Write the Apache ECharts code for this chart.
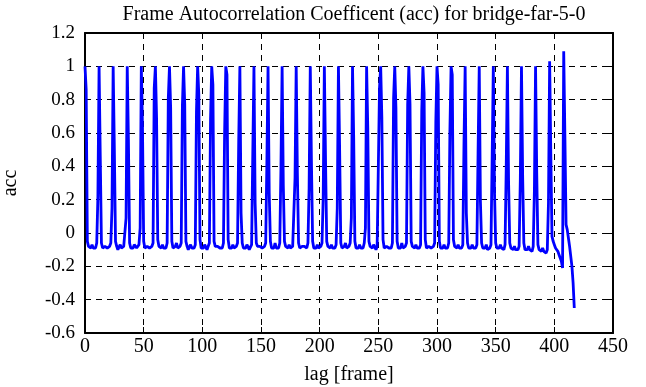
<!DOCTYPE html>
<html>
<head>
<meta charset="utf-8">
<script src="https://cdn.jsdelivr.net/npm/echarts@6/dist/echarts.min.js"></script>
<style>html,body{margin:0;padding:0;background:#fff;}#c{width:646px;height:387px;}</style>
</head>
<body>
<div id="c"></div>
<script>
// acc values, one row per 12-frame period (lag 12k .. 12k+11)
const accRows = [
  [1.00, 0.86, -0.05, -0.08, -0.09, -0.09, -0.07, -0.09, -0.10, -0.09, -0.06, 0.22],
  [1.00, 0.46, -0.06, -0.09, -0.09, -0.08, -0.07, -0.09, -0.09, -0.08, -0.06, 0.15],
  [1.00, 0.51, -0.05, -0.08, -0.10, -0.09, -0.07, -0.09, -0.10, -0.08, -0.07, 0.09],
  [1.00, 0.56, -0.06, -0.09, -0.09, -0.09, -0.07, -0.08, -0.09, -0.09, -0.07, 0.03],
  [1.00, 0.63, -0.05, -0.09, -0.10, -0.08, -0.07, -0.09, -0.09, -0.08, -0.06, 0.87],
  [1.00, 0.69, -0.04, -0.08, -0.09, -0.09, -0.07, -0.09, -0.10, -0.09, -0.06, 0.81],
  [1.00, 0.75, -0.05, -0.09, -0.09, -0.08, -0.06, -0.09, -0.09, -0.08, -0.06, 0.76],
  [1.00, 0.77, -0.05, -0.08, -0.10, -0.09, -0.07, -0.09, -0.09, -0.09, -0.07, 0.73],
  [1.00, 0.83, -0.04, -0.09, -0.09, -0.09, -0.07, -0.08, -0.10, -0.08, -0.06, 0.68],
  [1.00, 0.89, -0.05, -0.08, -0.09, -0.08, -0.07, -0.09, -0.09, -0.09, -0.06, 0.61],
  [1.00, 0.95, -0.04, -0.09, -0.10, -0.09, -0.07, -0.09, -0.09, -0.08, -0.06, 0.55],
  [1.00, 0.12, -0.06, -0.09, -0.09, -0.09, -0.07, -0.08, -0.10, -0.09, -0.07, 0.48],
  [1.00, 0.18, -0.06, -0.08, -0.09, -0.08, -0.07, -0.09, -0.09, -0.08, -0.06, 0.42],
  [1.00, 0.24, -0.05, -0.09, -0.10, -0.09, -0.06, -0.09, -0.09, -0.09, -0.06, 0.39],
  [1.00, 0.29, -0.05, -0.08, -0.09, -0.09, -0.07, -0.09, -0.10, -0.08, -0.07, 0.33],
  [1.00, 0.36, -0.06, -0.09, -0.09, -0.08, -0.07, -0.08, -0.09, -0.09, -0.06, 0.27],
  [1.00, 0.42, -0.05, -0.09, -0.10, -0.09, -0.07, -0.09, -0.09, -0.08, -0.06, 0.21],
  [1.00, 0.44, -0.05, -0.08, -0.09, -0.09, -0.07, -0.09, -0.10, -0.09, -0.07, 0.15],
  [1.00, 0.51, -0.06, -0.09, -0.09, -0.08, -0.06, -0.09, -0.09, -0.08, -0.06, 0.09],
  [1.00, 0.57, -0.05, -0.09, -0.10, -0.09, -0.07, -0.09, -0.09, -0.09, -0.06, 0.03],
  [1.00, 0.63, -0.05, -0.08, -0.09, -0.09, -0.07, -0.08, -0.10, -0.08, -0.07, 0.87],
  [1.00, 0.69, -0.04, -0.09, -0.09, -0.08, -0.07, -0.09, -0.09, -0.09, -0.06, 0.81],
  [1.00, 0.75, -0.05, -0.09, -0.10, -0.09, -0.06, -0.09, -0.09, -0.08, -0.06, 0.77],
  [1.00, 0.77, -0.05, -0.08, -0.09, -0.09, -0.07, -0.09, -0.10, -0.09, -0.07, 0.73],
  [1.00, 0.84, -0.04, -0.09, -0.09, -0.08, -0.07, -0.09, -0.09, -0.08, -0.06, 0.67],
  [1.00, 0.89, -0.05, -0.09, -0.10, -0.09, -0.07, -0.09, -0.10, -0.09, -0.06, 0.61],
  [1.00, 0.95, -0.04, -0.08, -0.09, -0.09, -0.07, -0.09, -0.09, -0.09, -0.07, 0.54],
  [1.00, 0.12, -0.06, -0.09, -0.10, -0.09, -0.07, -0.09, -0.10, -0.09, -0.07, 0.48],
  [1.00, 0.19, -0.06, -0.09, -0.09, -0.09, -0.07, -0.10, -0.10, -0.09, -0.07, 0.45],
  [1.00, 0.25, -0.06, -0.09, -0.10, -0.09, -0.07, -0.09, -0.10, -0.10, -0.07, 0.39],
  [1.00, 0.31, -0.06, -0.09, -0.10, -0.10, -0.08, -0.10, -0.11, -0.10, -0.08, 0.32],
  [1.00, 0.34, -0.06, -0.10, -0.10, -0.10, -0.08, -0.10, -0.11, -0.11, -0.08, 0.25],
  [1.00, 0.36, -0.07, -0.10, -0.11, -0.11, -0.09, -0.11, -0.12, -0.12, -0.10, 0.18],
  [1.03, 0.47, -0.02, -0.05, -0.07, -0.09, -0.10, -0.11, -0.13, -0.15, -0.17, -0.21],
  [1.09, 0.58, 0.05, 0.02, -0.03, -0.08, -0.14, -0.20, -0.30, -0.45]
];
const xTicks = [0, 50, 100, 150, 200, 250, 300, 350, 400, 450];
const yTicks = [-0.6, -0.4, -0.2, 0, 0.2, 0.4, 0.6, 0.8, 1, 1.2];
const titleText = 'Frame Autocorrelation Coefficent (acc) for bridge-far-5-0';

const acc = [].concat(...accRows);
const seriesData = acc.map((v, i) => [i, v]);

const font = 'Liberation Serif';
const dashed = { show: true, lineStyle: { color: '#000', type: [6, 5], width: 1 } };
const chart = echarts.init(document.getElementById('c'), null, { renderer: 'canvas' });
chart.setOption({
  animation: false,
  backgroundColor: '#fff',
  title: {
    text: titleText, left: 349, textAlign: 'center', top: 0,
    textStyle: { fontFamily: font, fontSize: 20, fontWeight: 'normal', color: '#000' }
  },
  grid: { left: 85, right: 33, top: 33, bottom: 54, containLabel: false, outerBoundsMode: 'none' },
  xAxis: [{
    type: 'value', min: xTicks[0], max: xTicks[xTicks.length - 1], interval: 50,
    name: 'lag [frame]', nameLocation: 'middle', nameGap: 32,
    nameTextStyle: { fontFamily: font, fontSize: 20, color: '#000' },
    axisLine: { show: true, onZero: false, lineStyle: { color: '#000', width: 2 } },
    axisTick: { show: true, inside: true, length: 6, lineStyle: { color: '#000', width: 1 } },
    axisLabel: { fontFamily: font, fontSize: 20, color: '#000', margin: 4 },
    splitLine: dashed
  }, {
    type: 'value', position: 'top', min: 0, max: 450, interval: 50,
    axisLine: { show: true, onZero: false, lineStyle: { color: '#000', width: 2 } },
    axisTick: { show: true, inside: true, length: 6, lineStyle: { color: '#000', width: 1 } },
    axisLabel: { show: false }, splitLine: { show: false }
  }],
  yAxis: [{
    type: 'value', min: yTicks[0], max: yTicks[yTicks.length - 1], interval: 0.2,
    name: 'acc', nameLocation: 'middle', nameGap: 64,
    nameTextStyle: { fontFamily: font, fontSize: 20, color: '#000' },
    axisLine: { show: true, onZero: false, lineStyle: { color: '#000', width: 2 } },
    axisTick: { show: true, inside: true, length: 6, lineStyle: { color: '#000', width: 1 } },
    axisLabel: { fontFamily: font, fontSize: 19, color: '#000', margin: 10,
      formatter: v => String(Math.round(v * 10) / 10) },
    splitLine: dashed
  }, {
    type: 'value', position: 'right', min: -0.6, max: 1.2, interval: 0.2,
    axisLine: { show: true, onZero: false, lineStyle: { color: '#000', width: 2 } },
    axisTick: { show: true, inside: true, length: 6, lineStyle: { color: '#000', width: 1 } },
    axisLabel: { show: false }, splitLine: { show: false }
  }],
  series: [{
    type: 'line', data: seriesData, xAxisIndex: 0, yAxisIndex: 0,
    showSymbol: false, symbol: 'none',
    lineStyle: { color: '#0000ff', width: 2.8 },
    z: 3
  }]
});
</script>
</body>
</html>
